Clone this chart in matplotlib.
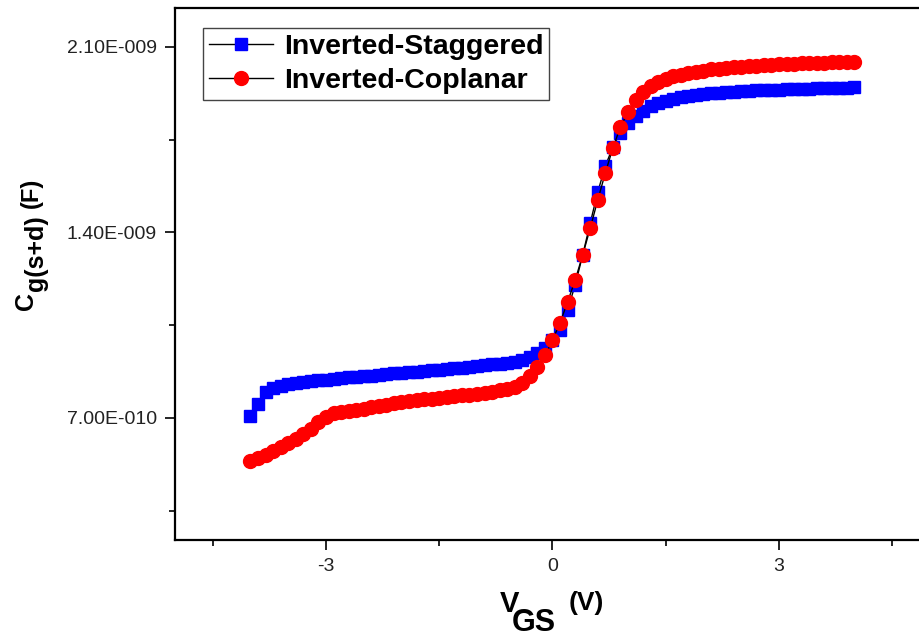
import numpy as np
import matplotlib
matplotlib.use("Agg")
import matplotlib.pyplot as plt

plt.rcParams['font.family'] = ['Liberation Sans', 'DejaVu Sans']
plt.rcParams['axes.unicode_minus'] = False

# gate voltage sweep, -4 V .. 4 V in 0.1 V steps
vgs = np.round(np.arange(-40, 41) / 10, 1)

# capacitance values in units of 1e-10 F
cap_staggered = [
    7.08, 7.53, 7.98, 8.15, 8.22, 8.28, 8.32, 8.36, 8.39, 8.42,
    8.45, 8.48, 8.50, 8.53, 8.55, 8.58, 8.60, 8.63, 8.65, 8.68,
    8.70, 8.72, 8.75, 8.77, 8.80, 8.82, 8.85, 8.87, 8.90, 8.93,
    8.96, 8.99, 9.02, 9.05, 9.09, 9.13, 9.19, 9.30, 9.45, 9.64,
    9.94, 10.32, 11.08, 12.02, 13.15, 14.36, 15.53, 16.51, 17.23, 17.76,
    18.13, 18.40, 18.60, 18.76, 18.88, 18.97, 19.04, 19.10, 19.15, 19.19,
    19.22, 19.25, 19.27, 19.29, 19.31, 19.33, 19.34, 19.36, 19.37, 19.38,
    19.39, 19.40, 19.41, 19.42, 19.43, 19.44, 19.45, 19.46, 19.46, 19.47,
    19.48]
cap_coplanar = [
    5.38, 5.50, 5.62, 5.76, 5.90, 6.04, 6.20, 6.38, 6.60, 6.83,
    7.05, 7.17, 7.23, 7.27, 7.31, 7.35, 7.40, 7.45, 7.50, 7.55,
    7.59, 7.63, 7.67, 7.70, 7.73, 7.76, 7.79, 7.82, 7.85, 7.88,
    7.92, 7.95, 7.99, 8.04, 8.10, 8.18, 8.32, 8.58, 8.92, 9.36,
    9.94, 10.59, 11.38, 12.20, 13.15, 14.17, 15.23, 16.25, 17.19, 17.98,
    18.55, 18.98, 19.30, 19.52, 19.68, 19.80, 19.89, 19.96, 20.02, 20.07,
    20.11, 20.15, 20.18, 20.21, 20.24, 20.26, 20.28, 20.30, 20.32, 20.33,
    20.35, 20.36, 20.37, 20.38, 20.39, 20.40, 20.41, 20.42, 20.43, 20.44,
    20.45]
labels = ['Inverted-Staggered', 'Inverted-Coplanar']

y_major = [7.0e-10, 1.4e-9, 2.1e-9]
y_major_labels = ['7.00E-010', '1.40E-009', '2.10E-009']
y_minor = [3.5e-10, 1.05e-9, 1.75e-9]
x_major = [-3, 0, 3]
x_minor = [-4.5, -1.5, 1.5, 4.5]

W, H = 920, 637
fig = plt.figure(figsize=(W / 100, H / 100), dpi=100)
# 75.5 px per volt, the frame runs off the right edge of the picture
ax = fig.add_axes([175 / W, 1 - 540 / H, 800 / W, 532 / H])

ax.plot(vgs, np.array(cap_staggered) * 1e-10, color='black', lw=1,
        marker='s', ms=8, mfc='#0000ff', mec='#0000ff', label=labels[0])
ax.plot(vgs, np.array(cap_coplanar) * 1e-10, color='black', lw=1,
        marker='o', ms=10, mfc='#ff0000', mec='#ff0000', label=labels[1])

ax.set_xlim(-5, -5 + 800 / 75.5)
ax.set_ylim(2.396e-10, 2.247e-9)

ax.set_yticks(y_major)
ax.set_yticklabels(y_major_labels)
ax.set_yticks(y_minor, minor=True)
ax.set_xticks(x_major)
ax.set_xticklabels([str(v) for v in x_major])
ax.set_xticks(x_minor, minor=True)

ax.tick_params(which='major', direction='out', length=7, width=1.2,
               labelsize=14, pad=6, labelcolor='#222222')
ax.tick_params(which='minor', direction='out', length=4, width=1.2)
for s in ax.spines.values():
    s.set_linewidth(1.6)
ax.spines['right'].set_visible(False)

leg = ax.legend(loc='upper left', bbox_to_anchor=(28 / 800, 1 - 20 / 532),
                prop={'weight': 'bold', 'size': 20.5}, frameon=True,
                fancybox=False, edgecolor='#444444', framealpha=1,
                handlelength=2.25, handletextpad=0.4, labelspacing=0.3,
                borderpad=0.2, borderaxespad=0)
leg.get_frame().set_linewidth(1.0)


def px(x, y):
    return x / W, 1 - y / H


# x axis label: V_GS (V)
fig.text(*px(500, 612), 'V', fontsize=21, fontweight='bold', ha='left', va='baseline')
fig.text(*px(512, 631), 'GS', fontsize=22, fontweight='bold', ha='left', va='baseline')
fig.text(*px(569, 610), '(V)', fontsize=19, fontweight='bold', ha='left', va='baseline')

# y axis label: C_g(s+d) (F)
fig.text(*px(33, 310), 'C', fontsize=18, fontweight='bold', rotation=90,
         rotation_mode='anchor', ha='left', va='baseline')
fig.text(*px(43, 291), 'g(s+d)', fontsize=18, fontweight='bold', rotation=90,
         rotation_mode='anchor', ha='left', va='baseline')
fig.text(*px(38, 208), '(F)', fontsize=17, fontweight='bold', rotation=90,
         rotation_mode='anchor', ha='left', va='baseline')

fig.savefig('out.png', dpi=100)
